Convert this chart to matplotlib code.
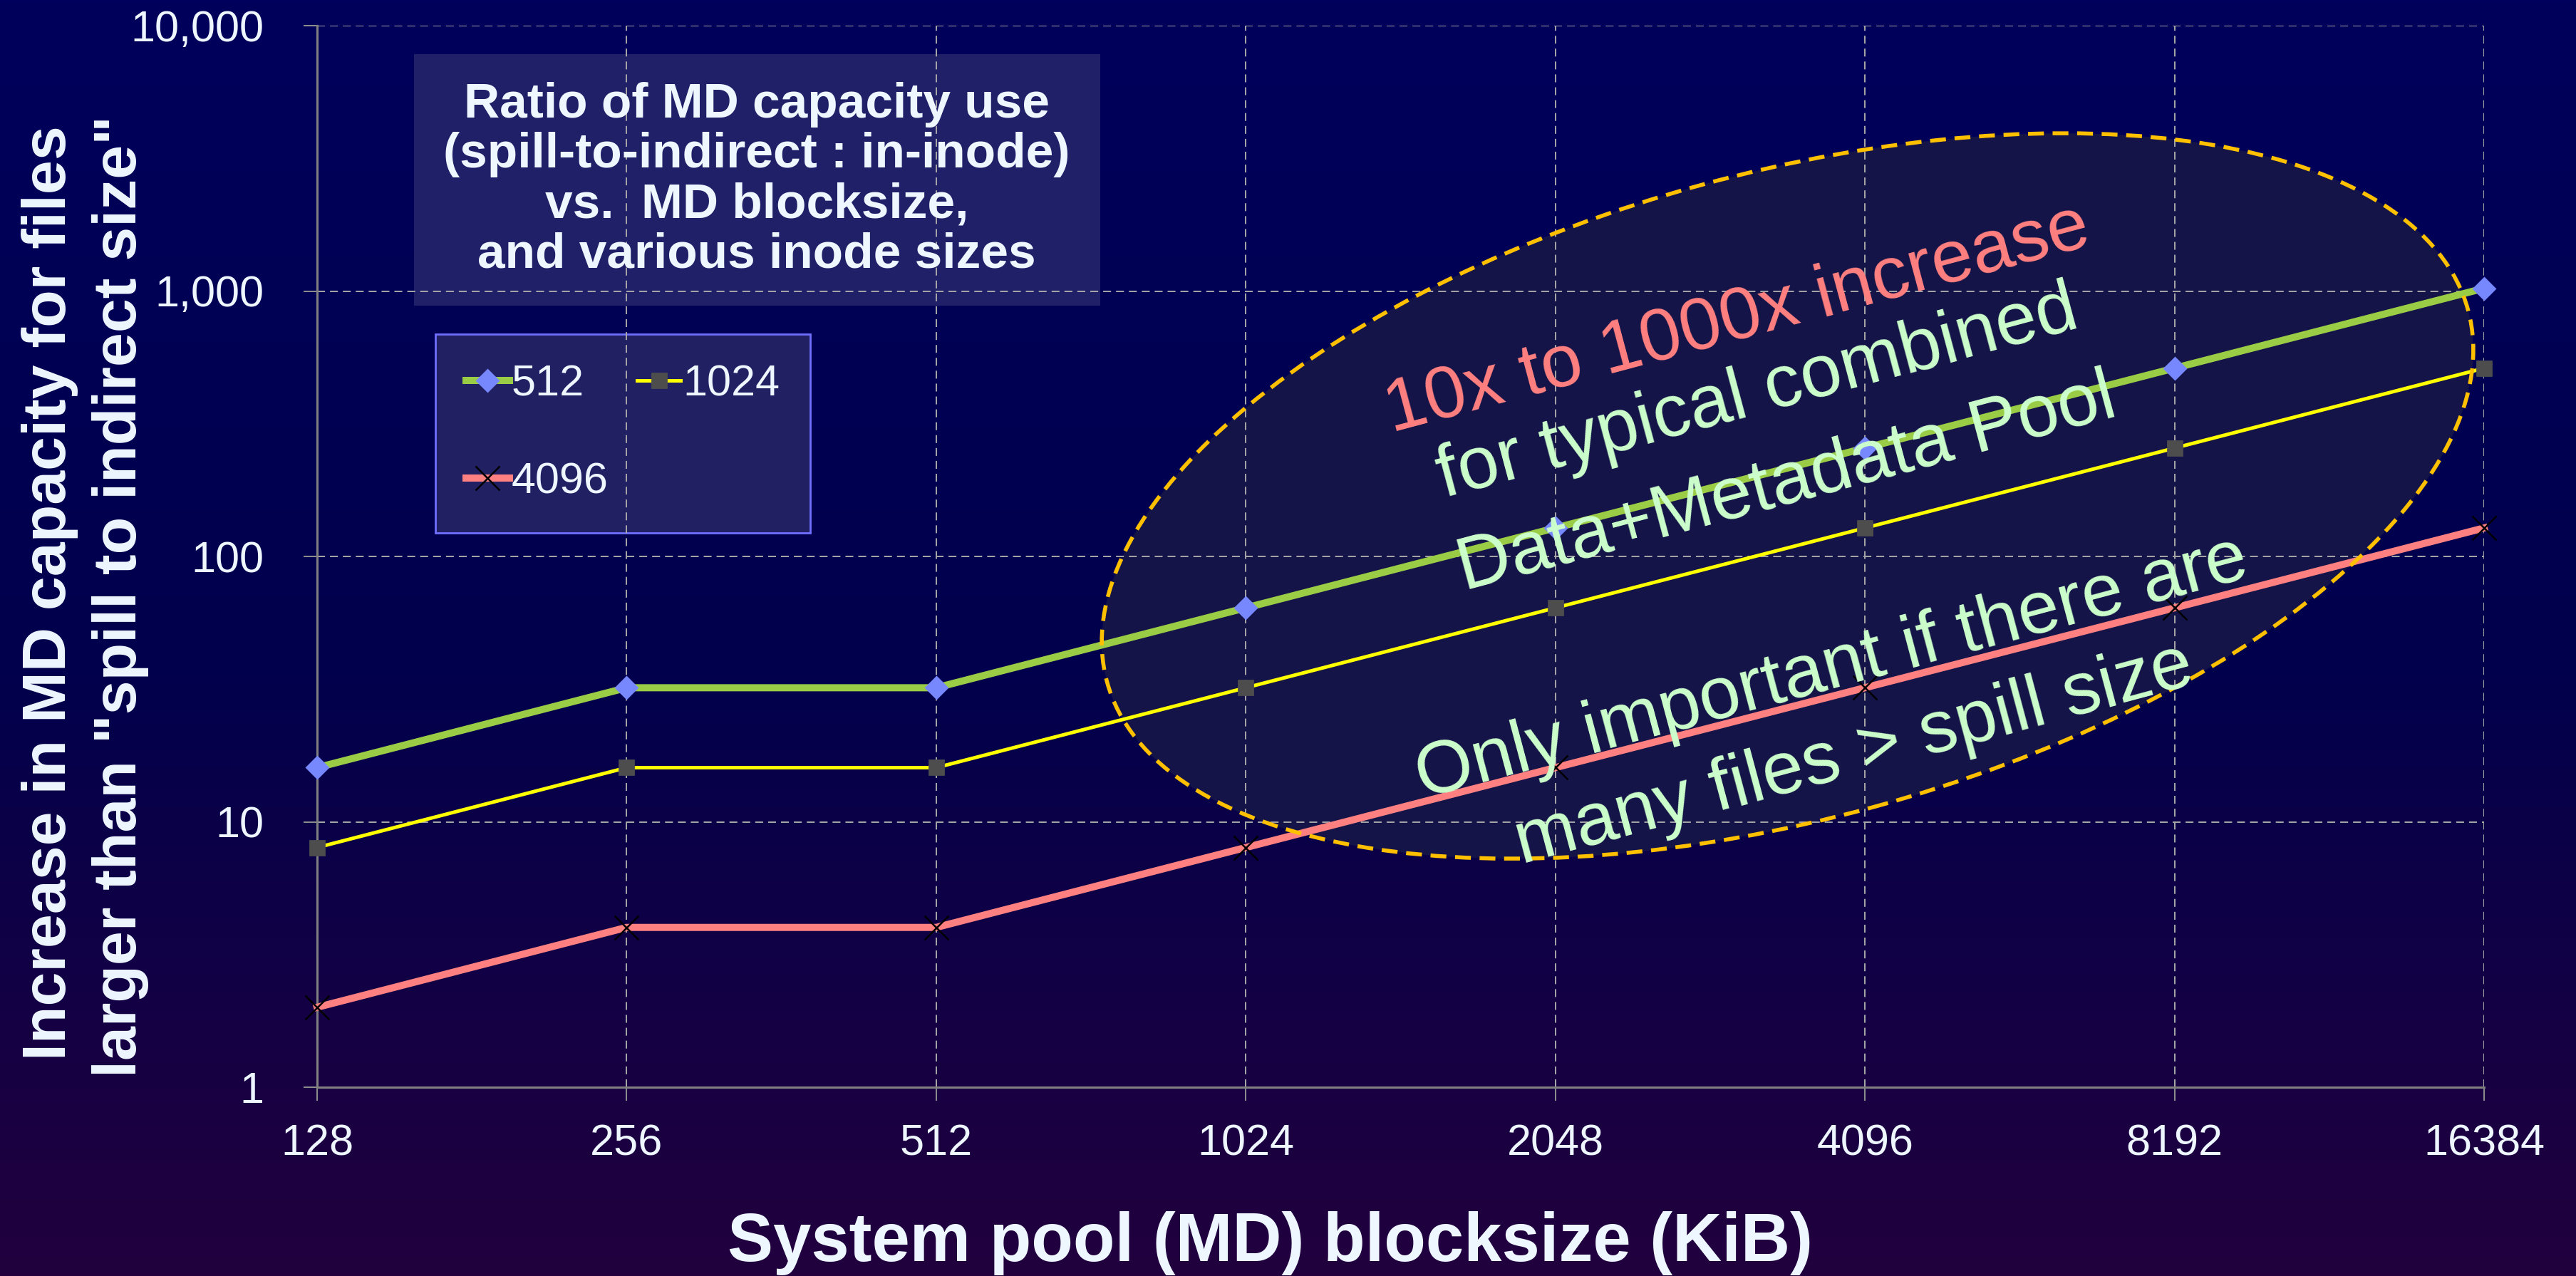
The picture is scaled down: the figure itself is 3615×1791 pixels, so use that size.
import numpy as np
import matplotlib
matplotlib.use("Agg")
from matplotlib import pyplot as plt
from matplotlib.patches import Ellipse, Rectangle
from matplotlib.transforms import IdentityTransform
from matplotlib.ticker import FuncFormatter, NullLocator

# data
blocksize = [128, 256, 512, 1024, 2048, 4096, 8192, 16384]
inode_512 = [16, 32, 32, 64, 128, 256, 512, 1024]
inode_1024 = [8, 16, 16, 32, 64, 128, 256, 512]
inode_4096 = [2, 4, 4, 8, 16, 32, 64, 128]
y_ticks = [1, 10, 100, 1000, 10000]

title = "Ratio of MD capacity use\n(spill-to-indirect : in-inode)\nvs.  MD blocksize,\nand various inode sizes"
note_red = "10x to 1000x increase"
note_green = ["for typical combined", "Data+Metadata Pool",
              "Only important if there are", "many files > spill size"]

W, H, DPI = 3616, 1791, 200
TXT = "#EEF6FF"

plt.rcParams["font.family"] = ["Liberation Sans", "DejaVu Sans"]


# pixel position -> figure fraction
def fpos(x, y):
    return x / W, 1 - y / H


fig = plt.figure(figsize=(W / DPI, H / DPI), dpi=DPI)

# background gradient, navy to purple
bg = fig.add_axes([0, 0, 1, 1], zorder=-10)
t = np.linspace(0, 1, 400)[:, None]
red = np.clip((t - 0.5) / 0.5, 0, 1) * 34
blue = 92 - 30 * t
grad = np.dstack([red, np.zeros_like(t), blue]) / 255
bg.imshow(grad, aspect="auto", extent=[0, 1, 0, 1])
bg.axis("off")

ax = fig.add_axes([445 / W, 1 - 1526 / H, (3486 - 445) / W, (1526 - 36) / H])
ax.set_facecolor("none")

x = np.arange(len(blocksize))
h512, = ax.plot(x, inode_512, color="#9ACD45", lw=3.6, marker="D", ms=7.6,
                mfc="#7788FF", mec="#7788FF", zorder=3, clip_on=False)
h1024, = ax.plot(x, inode_1024, color="#FFFF00", lw=1.8, marker="s", ms=7.0,
                 mfc="#4D4D4D", mec="#4D4D4D", zorder=3, clip_on=False)
h4096, = ax.plot(x, inode_4096, color="#FF8080", lw=3.6, marker="x", ms=12.5,
                 mec="black", mew=0.9, zorder=3, clip_on=False)

ax.set_yscale("log")
ax.set_xlim(0, len(blocksize) - 1)
ax.set_ylim(y_ticks[0], y_ticks[-1])
ax.set_xticks(x)
ax.set_xticklabels([str(b) for b in blocksize])
ax.set_yticks(y_ticks)
ax.yaxis.set_major_formatter(FuncFormatter(lambda v, p: "{:,}".format(int(round(v)))))
ax.yaxis.set_minor_locator(NullLocator())

# grid and axes
ax.set_axisbelow(True)
ax.grid(True, color="#A8A8A8", lw=0.7, ls=(0, (5.7, 3.6)))
for s in ["top", "right"]:
    ax.spines[s].set_visible(False)
for s in ["left", "bottom"]:
    ax.spines[s].set_color("#808080")
    ax.spines[s].set_linewidth(1.1)
ax.tick_params(axis="both", colors="#909090", labelcolor=TXT, labelsize=22,
               length=7, width=0.7, direction="out")
ax.tick_params(axis="y", pad=20)
ax.tick_params(axis="x", pad=11.5)

# highlight ellipse
cx, cy = ax.transData.transform((4.75, 169))
fill = Ellipse((cx, cy), 1980, 906, angle=15.3, transform=IdentityTransform(),
               facecolor="#141448", edgecolor="none", zorder=0.2)
edge = Ellipse((cx, cy), 1980, 906, angle=15.3, transform=IdentityTransform(),
               facecolor="none", edgecolor="#FFC000", lw=2.0,
               ls=(0, (4.0, 2.2)), zorder=4)
ax.add_artist(fill)
ax.add_artist(edge)

# notes inside the ellipse
note_pos = [(2438, 450), (2467, 553), (2508, 680), (2571, 939), (2602, 1060)]
colors = ["#FF8080"] + ["#CCFFCC"] * 4
for txt, (px, py), c in zip([note_red] + note_green, note_pos, colors):
    ax.text(*fpos(px, py), txt, transform=fig.transFigure, rotation=15,
            rotation_mode="anchor", ha="center", va="center",
            fontsize=37.5, color=c, zorder=5)

# title box
ax.add_patch(Rectangle(fpos(581, 429), (1544 - 581) / W, (429 - 76) / H,
                       transform=fig.transFigure, facecolor="#202068",
                       edgecolor="none", zorder=0.3, clip_on=False))
ax.text(*fpos(1062, 252), title, transform=fig.transFigure, ha="center",
        va="center", fontsize=25, fontweight="bold", color=TXT,
        linespacing=1.12, zorder=5)

# legend, filled row-wise
leg = ax.legend([h512, h4096, h1024], ["512", "4096", "1024"], ncol=2,
                loc="upper left", mode="expand",
                bbox_to_anchor=(611 / W, 1 - 753 / H, 526 / W, 284 / H),
                bbox_transform=fig.transFigure, fontsize=22, frameon=True,
                fancybox=False, facecolor="#202062", edgecolor="#7070FF",
                framealpha=1, labelcolor=TXT, handlelength=1.0,
                handletextpad=0.05, borderpad=0.7, labelspacing=1.3,
                columnspacing=1.5, borderaxespad=0, numpoints=1)
leg.get_frame().set_linewidth(1.0)
leg.set_zorder(0.4)

# axis titles
fig.text(*fpos(92, 832), "Increase in MD capacity for files", rotation=90,
         rotation_mode="anchor", ha="center", va="baseline", fontsize=31,
         fontweight="bold", color=TXT)
fig.text(*fpos(191, 837), 'larger than "spill to indirect size"', rotation=90,
         rotation_mode="anchor", ha="center", va="baseline", fontsize=31,
         fontweight="bold", color=TXT)
fig.text(*fpos(1783, 1770), "System pool (MD) blocksize (KiB)", ha="center",
         va="baseline", fontsize=34.5, fontweight="bold", color=TXT)

fig.savefig("out.png", dpi=DPI)
